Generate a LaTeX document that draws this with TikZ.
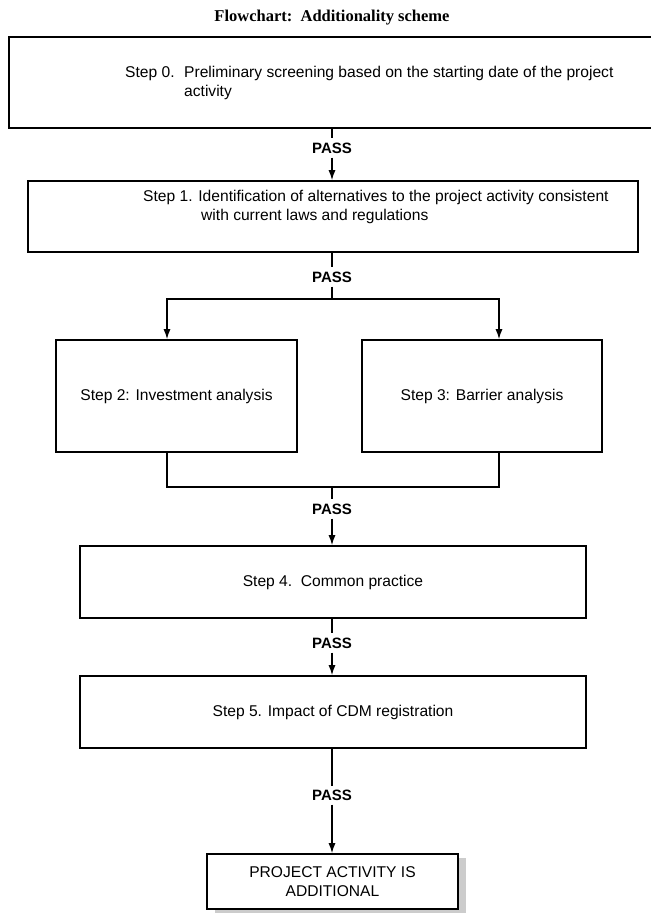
\documentclass[tikz,border=0pt]{standalone}
\usepackage{fontspec}
\setmainfont{Liberation Sans}
\newfontfamily\titlefont{Liberation Serif}
\usepackage{tikz}
\usetikzlibrary{arrows.meta , shadows}

\tikzset{
    stepbox/.style = {draw , line width = 1.6pt , fill = white , inner sep = 0pt , align = center},
    passlabel/.style = {font = \fontsize{15}{18}\selectfont\bfseries , inner sep = 4pt},
    flow/.style = {line width = 1.3pt},
    flowarrow/.style = {line width = 1.3pt , -{Latex[length = 10pt , width = 7pt]}}
}

\begin{document}
\begin{tikzpicture}[x = 1pt , y = -1pt , font = \fontsize{15.6}{19}\selectfont]
    \clip (0,0) rectangle (651,914);
    \node[font = \titlefont\fontsize{16.5}{19}\selectfont\bfseries] (title) at (332,18) {Flowchart:\ \ Additionality scheme}; % Title
    % Boxes
    \node[stepbox , minimum width = 652pt , minimum height = 91pt] (s0) at (335,82.5) {};
    \node[anchor = west , align = left , inner sep = 0pt] (t0) at (125,83) {\makebox[59pt][l]{Step 0.}Preliminary screening based on the starting date of the project\\\hspace*{59pt}activity};
    \node[stepbox , minimum width = 610pt , minimum height = 71pt] (s1) at (333,216.5) {};
    \node[anchor = west , align = left , inner sep = 0pt] (t1) at (143,207) {Step 1. Identification of alternatives to the project activity consistent\\\hspace*{58pt}with current laws and regulations};
    \node[stepbox , minimum width = 241pt , minimum height = 112pt] (s2) at (176.5,396) {Step 2: Investment analysis};
    \node[stepbox , minimum width = 240pt , minimum height = 112pt] (s3) at (482,396) {Step 3: Barrier analysis};
    \node[stepbox , minimum width = 506pt , minimum height = 72pt] (s4) at (333,582) {Step 4.\ \ Common practice};
    \node[stepbox , minimum width = 506pt , minimum height = 72pt] (s5) at (333,712) {Step 5. Impact of CDM registration};
    \node[stepbox , minimum width = 251pt , minimum height = 55pt , drop shadow = {shadow xshift = 8pt , shadow yshift = -4pt , fill = gray!40 , opacity = 1}] (fin) at (332.5,881.5) {PROJECT ACTIVITY IS\\ADDITIONAL};
    % PASS labels
    \node[passlabel] (p1) at (332,148) {PASS};
    \node[passlabel] (p2) at (332,277) {PASS};
    \node[passlabel] (p3) at (332,509) {PASS};
    \node[passlabel] (p4) at (332,643) {PASS};
    \node[passlabel] (p5) at (332,795) {PASS};
    % Branch points
    \coordinate (split) at (332,299);
    \coordinate (sl) at (167,299);
    \coordinate (sr) at (499,299);
    \coordinate (merge) at (332,487);
    \coordinate (ml) at (167,487);
    \coordinate (mr) at (499,487);
    % Connectors
    \draw[flow] (p1 |- s0.south) -- (p1.north);
    \draw[flowarrow] (p1.south) -- (p1 |- s1.north);
    \draw[flow] (p2 |- s1.south) -- (p2.north);
    \draw[flow] (p2.south) -- (split);
    \draw[flowarrow] (split) -- (sl) -- (sl |- s2.north);
    \draw[flowarrow] (split) -- (sr) -- (sr |- s3.north);
    \draw[flow] (ml |- s2.south) -- (ml) -- (mr) -- (mr |- s3.south);
    \draw[flow] (merge) -- (p3.north);
    \draw[flowarrow] (p3.south) -- (p3 |- s4.north);
    \draw[flow] (p4 |- s4.south) -- (p4.north);
    \draw[flowarrow] (p4.south) -- (p4 |- s5.north);
    \draw[flow] (p5 |- s5.south) -- (p5.north);
    \draw[flowarrow] (p5.south) -- (p5 |- fin.north);
\end{tikzpicture}
\end{document}
